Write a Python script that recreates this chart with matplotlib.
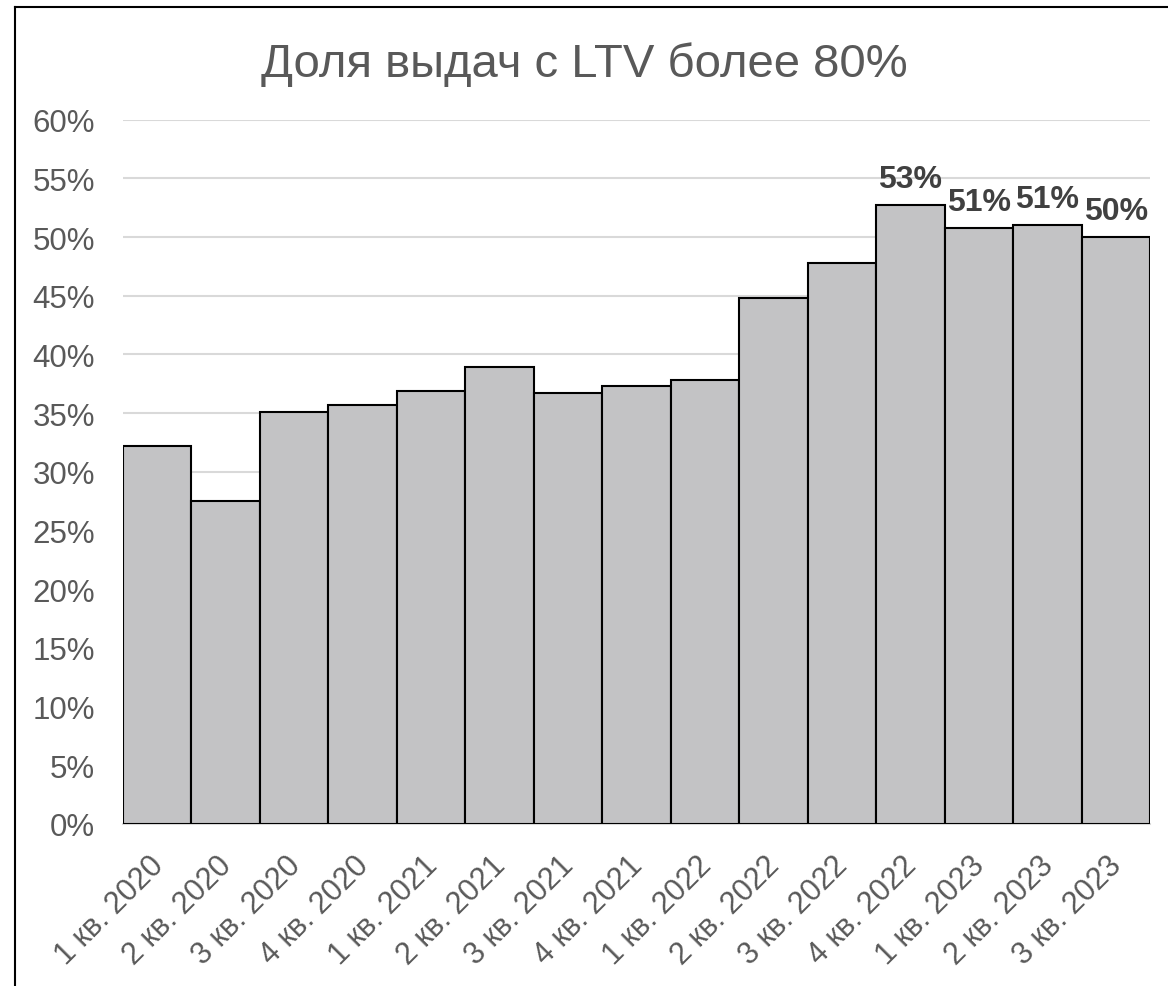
import matplotlib
matplotlib.use("Agg")
import matplotlib.pyplot as plt
import matplotlib.transforms as mtransforms
from matplotlib.lines import Line2D

# quarters and share of loans with LTV > 80%
quarters = ["1 кв. 2020", "2 кв. 2020", "3 кв. 2020", "4 кв. 2020",
            "1 кв. 2021", "2 кв. 2021", "3 кв. 2021", "4 кв. 2021",
            "1 кв. 2022", "2 кв. 2022", "3 кв. 2022", "4 кв. 2022",
            "1 кв. 2023", "2 кв. 2023", "3 кв. 2023"]
share = [0.322, 0.275, 0.351, 0.357, 0.369, 0.389, 0.367, 0.373,
         0.378, 0.448, 0.478, 0.527, 0.508, 0.510, 0.500]
labelled = [11, 12, 13, 14]   # bars that carry a value label
yticks = [0.0, 0.05, 0.10, 0.15, 0.20, 0.25, 0.30, 0.35, 0.40, 0.45, 0.50, 0.55, 0.60]

plt.rcParams['font.family'] = ['Liberation Sans', 'DejaVu Sans']
text_col = '#595959'

fig = plt.figure(figsize=(11.68, 9.87), dpi=100)
ax = fig.add_axes([123 / 1168, 1 - 824.7 / 987, (1150 - 123) / 1168, (824.7 - 120.7) / 987])

x = list(range(len(quarters)))
bars = ax.bar(x, share, width=1.0, color='#C3C3C5', edgecolor='black', linewidth=1.5, zorder=3)

ax.set_xlim(-0.5, len(quarters) - 0.5)
ax.set_ylim(0, 0.6)
ax.set_yticks(yticks)
ax.set_yticklabels([f"{int(round(t * 100))}%" for t in yticks], fontsize=22.5, color=text_col)
ax.yaxis.grid(True, color='#D9D9D9', linewidth=1.5, zorder=0)
ax.set_axisbelow(True)
ax.tick_params(axis='y', length=0, pad=20)
ax.tick_params(axis='x', length=0, pad=19)

ax.set_xticks(x)
ax.set_xticklabels(quarters, rotation=45, ha='right', va='top', rotation_mode='anchor',
                   fontsize=22, color=text_col)
shift = mtransforms.ScaledTranslation(-9 / 100, 0, fig.dpi_scale_trans)
for lbl in ax.get_xticklabels():
    lbl.set_transform(lbl.get_transform() + shift)

for s in ['top', 'right', 'left']:
    ax.spines[s].set_visible(False)
ax.spines['bottom'].set_color('#D9D9D9')
ax.spines['bottom'].set_linewidth(1.5)

for i in labelled:
    ax.annotate(f"{share[i] * 100:.0f}%", (x[i], share[i]), xytext=(0, 8), textcoords='offset points',
                ha='center', va='bottom', fontsize=23, fontweight='bold', color='#404040', zorder=5)

fig.text(0.5, 1 - 65 / 987, "Доля выдач с LTV более 80%", ha='center', va='center',
         fontsize=34, color=text_col)

# outer frame (top and left edges visible)
fig.add_artist(Line2D([14.5 / 1168, 14.5 / 1168], [0, 1 - 8 / 987], transform=fig.transFigure,
                      color='black', linewidth=1.5))
fig.add_artist(Line2D([14.5 / 1168, 1], [1 - 8 / 987, 1 - 8 / 987], transform=fig.transFigure,
                      color='black', linewidth=1.5))

fig.savefig("out.png", dpi=100)
